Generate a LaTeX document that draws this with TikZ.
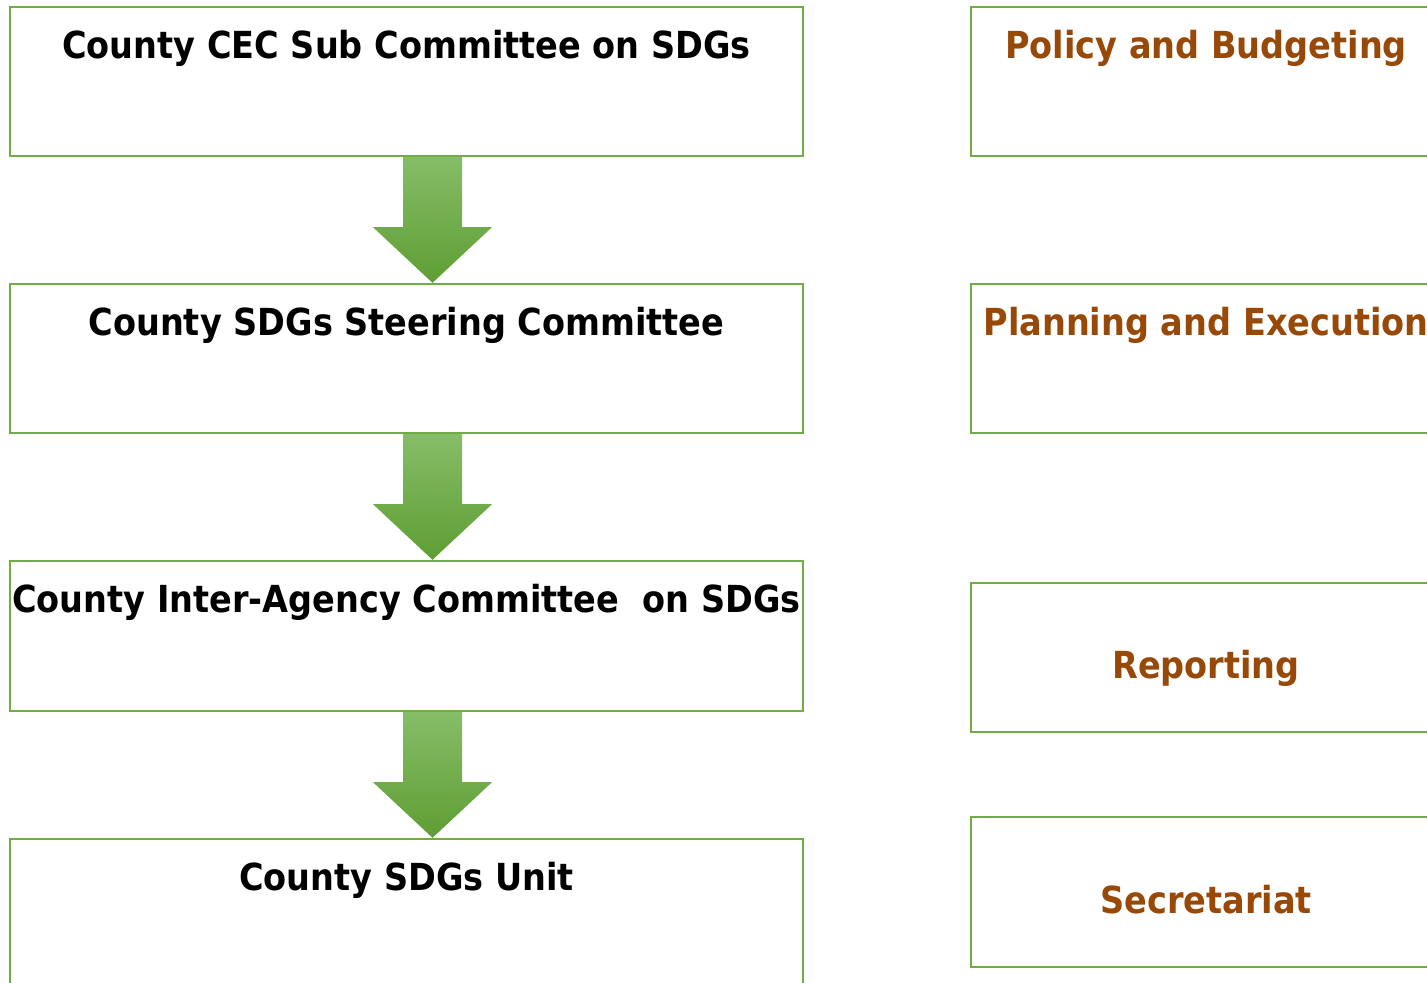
\documentclass[tikz,border=0pt]{standalone}
\usepackage{fontspec}
\setmainfont{DejaVu Sans}[FakeStretch=0.9]
\usetikzlibrary{fit,calc}
\definecolor{boxgreen}{HTML}{70AD47}
\definecolor{arrtop}{HTML}{86BD68}
\definecolor{arrbot}{HTML}{5E9E33}
\definecolor{brown}{HTML}{984807}
\tikzset{
  box/.style={draw=boxgreen, line width=0.12cm, inner sep=0pt, fill=white},
  lefttext/.style={anchor=base, font=\fontsize{53}{57}\selectfont\bfseries, text=black, inner sep=0pt},
  righttext/.style={anchor=base, font=\fontsize{53}{57}\selectfont\bfseries, text=brown, inner sep=0pt},
  bigarrow/.style={top color=arrtop, bottom color=arrbot, draw=none}
}
\begin{document}
\begin{tikzpicture}[x=0.05cm, y=-0.05cm]
\useasboundingbox (0,0) rectangle (1427,982);
\clip (0,0) rectangle (1427,982);
% left column
\node[box, fit={(10,7) (803,156)}] (b1) {};
\node[box, fit={(10,284) (803,433)}] (b2) {};
\node[box, fit={(10,561) (803,711)}] (b3) {};
\node[box, fit={(10,839) (803,990)}] (b4) {};
\node[lefttext] (t1) at ($(b1.north)+(0,53)$) {County CEC Sub Committee on SDGs};
\node[lefttext] (t2) at ($(b2.north)+(0,53)$) {County SDGs Steering Committee};
\node[lefttext] (t3) at ($(b3.north)+(0,53)$) {County Inter-Agency Committee\ \ on SDGs};
\node[lefttext] (t4) at ($(b4.north)+(0,53)$) {County SDGs Unit};
% right column
\node[box, fit={(971,7) (1441,156)}] (r1) {};
\node[box, fit={(971,284) (1441,433)}] (r2) {};
\node[box, fit={(971,583) (1441,732)}] (r3) {};
\node[box, fit={(971,817) (1441,967)}] (r4) {};
\node[righttext] (s1) at ($(r1.north)+(0,53)$) {Policy and Budgeting};
\node[righttext] (s2) at ($(r2.north)+(0,53)$) {Planning and Execution};
\node[righttext] (s3) at ($(r3.north)+(0,97)$) {Reporting};
\node[righttext] (s4) at ($(r4.north)+(0,98)$) {Secretariat};
% arrows
\foreach \a/\b in {b1/b2, b2/b3, b3/b4}{
  \path[bigarrow]
    ($(\a.south)+(-3.5,0)$) -- ($(\a.south)+(55.5,0)$)
    -- ($(\a.south)+(55.5,70)$) -- ($(\a.south)+(85.5,70)$)
    -- ($(\b.north)+(26,0)$)
    -- ($(\a.south)+(-33.5,70)$) -- ($(\a.south)+(-3.5,70)$) -- cycle;
}
\end{tikzpicture}
\end{document}
